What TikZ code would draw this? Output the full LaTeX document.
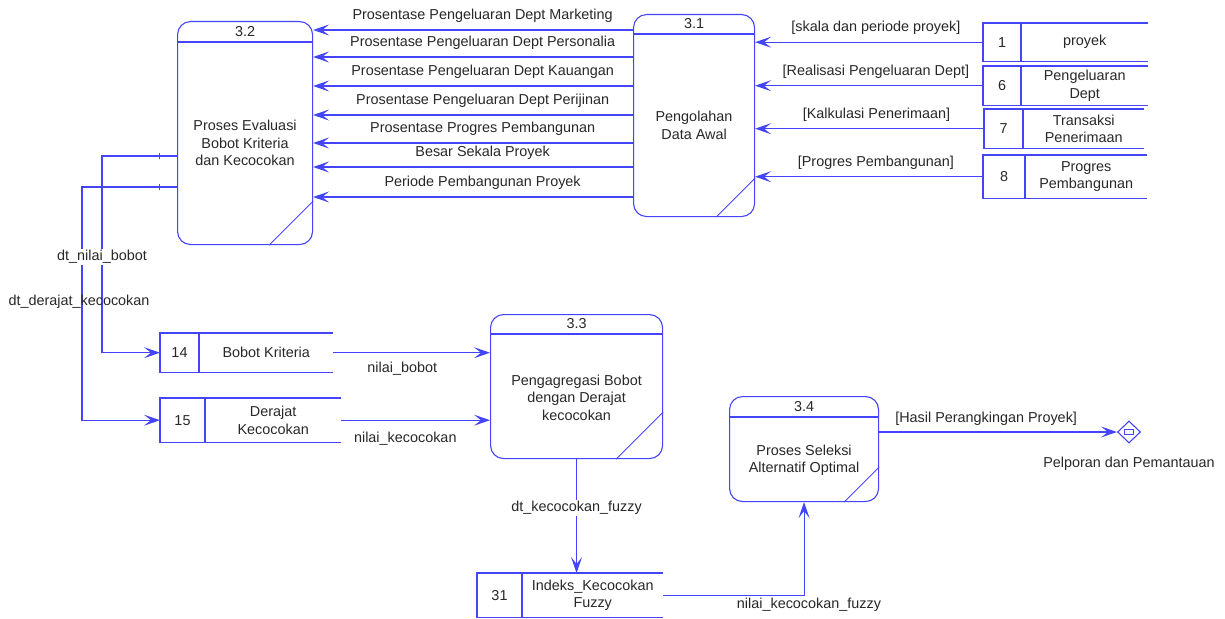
\documentclass[tikz,border=0pt]{standalone}
\usepackage{fontspec}
\setmainfont{Liberation Sans}
\usetikzlibrary{arrows.meta,calc,positioning,shapes.geometric}
\definecolor{dfdblue}{RGB}{68,68,250}
\definecolor{dfdtext}{RGB}{40,40,40}

\begin{document}
\begin{tikzpicture}[x=1pt, y=-1pt,
  line/.style={draw=dfdblue, line width=1.1pt},
  flow/.style={line, -{Stealth[length=16pt, width=11pt, inset=7pt]}},
  proc/.style={line, rounded corners=13pt, anchor=north west, inner sep=0pt},
  store/.style={anchor=north west, inner sep=0pt},
  lbl/.style={text=dfdtext, font=\fontsize{14.4}{17.5}\selectfont, inner sep=1pt, align=center},
  tickmark/.style={line, minimum height=6pt, minimum width=0pt, inner sep=0pt}]
\path[use as bounding box, fill=white] (0,0) rectangle (1225,618);

% processes
\node[proc, minimum width=121, minimum height=202] (p31) at (633,14) {};
\node[proc, minimum width=135, minimum height=223] (p32) at (177,21) {};
\node[proc, minimum width=172, minimum height=144] (p33) at (490,314) {};
\node[proc, minimum width=149, minimum height=105] (p34) at (729,396) {};
\foreach \pn/\pid/\phd/\psl in {p31/3.1/20/39, p32/3.2/21/44, p33/3.3/20/47, p34/3.4/21/35} {
  \draw[line] ($(\pn.north west)+(0,\phd)$) -- ($(\pn.north east)+(0,\phd)$);
  \draw[line, line width=0.8pt] ($(\pn.south east)+(-\psl,0)$) -- ($(\pn.south east)+(0,-\psl)$);
  \node[lbl] (\pn-id) at ($(\pn.north)+(0,\phd/2)$) {\pid};
}
\node[lbl] (p31-t) at ($(p31.center)+(0,10)$) {Pengolahan\\Data Awal};
\node[lbl] (p32-t) at ($(p32.center)+(0,10)$) {Proses Evaluasi\\Bobot Kriteria\\dan Kecocokan};
\node[lbl] (p33-t) at ($(p33.center)+(0,11)$) {Pengagregasi Bobot\\dengan Derajat\\kecocokan};
\node[lbl] (p34-t) at ($(p34.center)+(0,11)$) {Proses Seleksi\\Alternatif Optimal};

% data stores
\foreach \sn/\sx/\sy/\sw/\sh/\sd/\snum/\stxt in {
    s1/983/23/165/38/38/1/proyek,
    s6/983/66/165/39/38/6/{Pengeluaran\\Dept},
    s7/984/109/160/39/39/7/{Transaksi\\Penerimaan},
    s8/983/155/164/43/42/8/{Progres\\Pembangunan},
    s14/160/333/173/39/39/14/{Bobot Kriteria},
    s15/160/398/181/44/45/15/{Derajat\\Kecocokan},
    s31/477/573/186/44/45/31/{Indeks\_Kecocokan\\Fuzzy}} {
  \node[store, minimum width=\sw, minimum height=\sh] (\sn) at (\sx,\sy) {};
  \draw[line] (\sn.north east) -- (\sn.north west) -- (\sn.south west) -- (\sn.south east);
  \draw[line] ($(\sn.north west)+(\sd,0)$) -- ($(\sn.south west)+(\sd,0)$);
  \node[lbl] (\sn-n) at ($(\sn.west)+(\sd/2,0)$) {\snum};
  \node[lbl] (\sn-t) at ($(\sn.center)+(\sd/2,0)$) {\stxt};
}

% external entity
\node[diamond, line, minimum width=23, minimum height=22, inner sep=0pt] (out) at (1129,432) {};
\node[line, minimum width=9, minimum height=5, inner sep=0pt] (out-box) at (out.center) {};
\node[lbl, below=12pt of out] (out-t) {Pelporan dan Pemantauan};

% flows into 3.1
\foreach \sn/\stxt in {s1/{[skala dan periode proyek]}, s6/{[Realisasi Pengeluaran Dept]},
    s7/{[Kalkulasi Penerimaan]}, s8/{[Progres Pembangunan]}}
  \draw[flow] (\sn.west) -- (p31.east |- \sn.west) node[lbl, pos=0.47, above=6pt] {\stxt};

% flows 3.1 -> 3.2
\foreach \fy/\stxt in {30/Prosentase Pengeluaran Dept Marketing, 57/Prosentase Pengeluaran Dept Personalia,
    86/Prosentase Pengeluaran Dept Kauangan, 115/Prosentase Pengeluaran Dept Perijinan,
    143/Prosentase Progres Pembangunan, 167/Besar Sekala Proyek, 197/Periode Pembangunan Proyek}
  \draw[flow] (p31.west |- 0,\fy) -- (p32.east |- 0,\fy) node[lbl, pos=0.47, above=6pt] {\stxt};

% flows 3.2 -> stores
\draw[flow] (p32.west |- 0,156) -- ++(-75,0) node[tickmark, pos=0.23] (tk1) {} |- (s14.west);
\draw[flow] (p32.west |- 0,187) -- ++(-95,0) node[tickmark, pos=0.18] (tk2) {} |- (s15.west);
\node[lbl, fill=white] (dnb) at (102,257) {dt\_nilai\_bobot};
\node[lbl] (ddk) at (79,302) {dt\_derajat\_kecocokan};

% flows into 3.3 and on
\draw[flow] (s14.east) -- (p33.west |- s14.east) node[lbl, pos=0.44, below=8pt] {nilai\_bobot};
\draw[flow] (s15.east) -- (p33.west |- s15.east) node[lbl, pos=0.43, below=10pt] {nilai\_kecocokan};
\draw[flow] (p33.south) -- (p33.south |- s31.north) node[lbl, pos=0.43, fill=white] {dt\_kecocokan\_fuzzy};
\draw[flow] (s31.east) -| (p34.south);
\node[lbl] (nkf) at (809,605) {nilai\_kecocokan\_fuzzy};
\draw[flow] (p34.east |- out.west) -- (out.west) node[lbl, pos=0.45, above=5pt] {[Hasil Perangkingan Proyek]};
\end{tikzpicture}
\end{document}
